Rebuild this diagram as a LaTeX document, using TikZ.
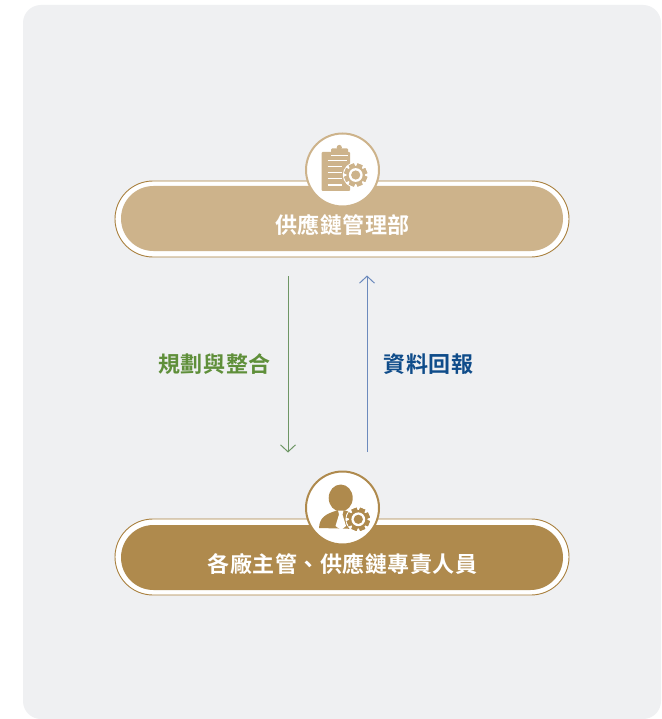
\documentclass[tikz,border=0pt]{standalone}
\usepackage{fontspec}
\newfontfamily\cjkb[LetterSpace=2.5]{Noto Sans CJK TC Bold}
\usetikzlibrary{arrows.meta}
\definecolor{panel}{HTML}{EFF0F2}
\definecolor{lighttan}{HTML}{CDB38B}
\definecolor{darktan}{HTML}{AF8A4D}
\definecolor{rimtan}{HTML}{A9803E}
\definecolor{grn}{HTML}{5F8F3A}
\definecolor{blu}{HTML}{0F4C8A}
\definecolor{grnline}{HTML}{6E9665}
\definecolor{bluline}{HTML}{6C8ABD}
\tikzset{
  outerpill/.style={draw=rimtan,line width=0.9pt,fill=white,rounded corners=38pt},
  innerpill/.style={rounded corners=32.5pt},
  badge/.style={circle,fill=white,line width=2pt,minimum size=73pt,inner sep=0pt},
  pilltext/.style={text=white,font=\cjkb\fontsize{22}{26}\selectfont,inner sep=0pt},
  sidelabel/.style={font=\cjkb\fontsize{22}{26}\selectfont,inner sep=0pt},
  flow/.style={line width=1pt,-{Straight Barb[length=7pt,width=15pt,line width=1pt]}},
  pics/gear/.style n args={2}{code={
    \fill[white] (0,0) circle (#1*1.12);
    \foreach \a in {0,45,...,315}
      \fill[#2,rotate=\a+22.5] (-#1*0.24,-#1) rectangle (#1*0.24,#1);
    \fill[#2] (0,0) circle (#1*0.8);
    \fill[white] (0,0) circle (#1*0.6);
    \fill[#2] (0,0) circle (#1*0.4);
  }}
}
\begin{document}
\begin{tikzpicture}[x=1pt,y=-1pt]
\useasboundingbox (0,0) rectangle (661,719);
\fill[white] (0,0) rectangle (661,719);
\fill[panel,rounded corners=18pt] (23,5) rectangle (661,719);
% top pill
\draw[outerpill] (115,181) rectangle (569,257);
\fill[lighttan,innerpill] (121,186) rectangle (563,251);
\node[pilltext] (top) at (342.5,225.5) {供應鏈管理部};
\node[badge,draw=lighttan] (topbadge) at (342.5,170) {};
% clipboard icon
\fill[lighttan,rounded corners=1pt] (321.7,152) rectangle (350,191);
\fill[lighttan,rounded corners=1pt] (331,148.5) rectangle (348,155);
\fill[lighttan] (339.3,147.5) circle (2.6);
\draw[white,line width=0.8pt] (331,155.5) -- (348,155.5);
\foreach \yy/\xe in {160.7/347,166.7/342,172.7/342,178.7/342,185/342}
  \draw[white,line width=1.2pt] (327.7,\yy) -- (\xe,\yy);
\pic at (355.7,175) {gear={11.5}{lighttan}};
% bottom pill
\draw[outerpill] (115,519) rectangle (569,595);
\fill[darktan,innerpill] (121,525) rectangle (563,590);
\node[pilltext] (bottom) at (342.5,564) {各廠主管、供應鏈專責人員};
\node[badge,draw=darktan] (botbadge) at (342.5,508) {};
% person icon
\fill[darktan] (340.7,498) ellipse (12 and 13.5);
\fill[darktan] (319,528) .. controls (319.5,518) and (325,514) .. (337,510.5) -- (345,510.5) .. controls (352,512) and (356,515) .. (360,520) -- (358,529) -- cycle;
\pic at (358.3,519.3) {gear={11.5}{darktan}};
\fill[white] (338,510.5) -- (343.5,510.5) -- (342.5,514.5) -- (346,526) -- (341,530) -- (335.5,526) -- (339,514.5) -- cycle;
% arrows
\coordinate (gs) at (288,276);
\coordinate (ge) at (288,452.5);
\coordinate (bs) at (367,452);
\coordinate (be) at (367,275.5);
\draw[flow,grnline] (gs) -- (ge);
\draw[flow,bluline] (bs) -- (be);
\node[sidelabel,text=grn] (plan) at (214.5,364) {規劃與整合};
\node[sidelabel,text=blu] (report) at (428.5,364) {資料回報};
\end{tikzpicture}
\end{document}
